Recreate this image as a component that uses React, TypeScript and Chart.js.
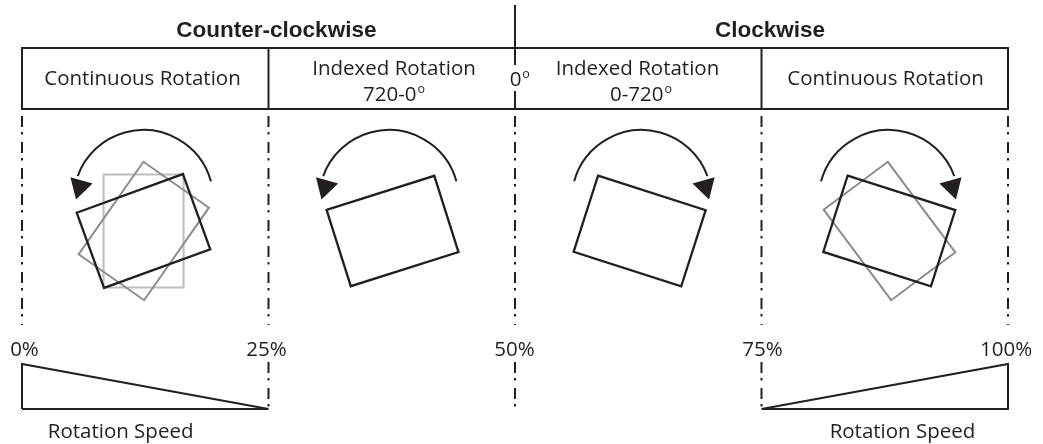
import React, { useEffect, useRef } from "react";
import { Chart, registerables } from "chart.js";

Chart.register(...registerables);

const CANVAS_W = 1043;
const CANVAS_H = 444;

const INK = "#231f20";
const MID_GRAY = "#8c8c8c";
const LIGHT_GRAY = "#bdbdbd";
const TEXT_FONT = '"Open Sans", "Noto Sans", sans-serif';
const TITLE_FONT = '"Liberation Sans", Arial, sans-serif';

// x: position along the control range (percent); y: diagram rows (top = 0)
const sectionEdges = [0, 25, 50, 75, 100];
const percentLabels = ["0%", "25%", "50%", "75%", "100%"];
const percentLabelX = [0.25, 24.8, 49.95, 75.1, 99.8];

const directionTitles = ["Counter-clockwise", "Clockwise"];
const directionTitleX = [25.8, 75.86];

const modeLabels = ["Continuous Rotation", "Indexed Rotation", "Indexed Rotation", "Continuous Rotation"];
const modeLabelX = [12.22, 37.73, 62.42, 87.58];
const modeRangeLabels = ["", "720-0", "0-720", ""];
const modeRangeX = [0, 37.73, 62.78, 0];
const centerLabel = "0";

// rotation speed ramps (speed 0..1 against position)
const ccwSpeedX = [0, 25];
const ccwSpeed = [1, 0];
const cwSpeedX = [75, 100];
const cwSpeed = [0, 1];
const speedLabel = "Rotation Speed";
const speedLabelX = [10, 89.3];

// rotated work-piece frames
const frameX = [12.33, 12.35, 12.32, 37.58, 62.64, 87.98, 87.96];
const frameAngle = [90, -55, -20, -17.6, 17.8, 53.3, 17.7];
const frameTone = ["light", "mid", "ink", "ink", "ink", "mid", "ink"];

// rotation arrows
const arrowX = [12.32, 37.22, 62.84, 87.88];
const arrowCCW = [true, true, false, false];

// rows
const ROW_TITLE = 36.5;
const ROW_BOX_TOP = 48;
const ROW_BOX_BOTTOM = 109;
const ROW_CENTER_TOP = 5;
const ROW_CENTER_GAP = [65, 91];
const ROW_MODE = 85;
const ROW_INDEX_1 = 74.5;
const ROW_INDEX_2 = 100.5;
const ROW_ZERO = 85.5;
const ROW_DASH = [116, 325];
const ROW_PERCENT = 355.5;
const ROW_LOW_DASH = [362, 408];
const ROW_SPEED_BASE = 409;
const ROW_SPEED_TOP = 364;
const ROW_SPEED_LABEL = 437.5;
const ROW_FRAME = 231;
const ROW_ARC = 200;

const FRAME_LONG = 113;
const FRAME_SHORT = 80;
const ARC_R = 70;

function rampPolygon(xs: number[], ys: number[]) {
  const pts = [{ x: xs[0], y: 0 }];
  xs.forEach((x, i) => pts.push({ x, y: ys[i] }));
  pts.push({ x: xs[xs.length - 1], y: 0 });
  pts.push({ x: xs[0], y: 0 });
  return pts;
}

const diagramPlugin = {
  id: "diagram",
  afterDatasetsDraw(chart: any) {
    const ctx: CanvasRenderingContext2D = chart.ctx;
    const sx = chart.scales.x;
    const sy = chart.scales.y;
    const px = (v: number) => sx.getPixelForValue(v);
    const py = (v: number) => sy.getPixelForValue(v);

    ctx.save();
    ctx.lineCap = "butt";
    ctx.lineJoin = "miter";
    ctx.strokeStyle = INK;
    ctx.fillStyle = INK;

    // header box
    ctx.lineWidth = 2;
    ctx.setLineDash([]);
    ctx.strokeRect(px(0), py(ROW_BOX_TOP), px(100) - px(0), py(ROW_BOX_BOTTOM) - py(ROW_BOX_TOP));
    [25, 75].forEach((e) => {
      ctx.beginPath();
      ctx.moveTo(px(e), py(ROW_BOX_TOP));
      ctx.lineTo(px(e), py(ROW_BOX_BOTTOM));
      ctx.stroke();
    });
    // center line
    ctx.beginPath();
    ctx.moveTo(px(50), py(ROW_CENTER_TOP));
    ctx.lineTo(px(50), py(ROW_CENTER_GAP[0]));
    ctx.moveTo(px(50), py(ROW_CENTER_GAP[1]));
    ctx.lineTo(px(50), py(ROW_BOX_BOTTOM));
    ctx.stroke();

    // dash-dot dividers
    ctx.setLineDash([11, 5, 2.5, 7.5]);
    sectionEdges.forEach((e) => {
      ctx.beginPath();
      ctx.moveTo(px(e), py(ROW_DASH[0]));
      ctx.lineTo(px(e), py(ROW_DASH[1]));
      ctx.stroke();
    });
    [25, 50, 75].forEach((e) => {
      ctx.beginPath();
      ctx.moveTo(px(e), py(ROW_LOW_DASH[0]));
      ctx.lineTo(px(e), py(ROW_LOW_DASH[1]));
      ctx.stroke();
    });
    ctx.setLineDash([]);

    // frames
    frameX.forEach((fx, i) => {
      const cx = px(fx);
      const cy = py(ROW_FRAME);
      const a = (frameAngle[i] * Math.PI) / 180;
      const ux = Math.cos(a), uy = Math.sin(a);
      const vx = -uy, vy = ux;
      const hl = FRAME_LONG / 2, hs = FRAME_SHORT / 2;
      const corners = [
        [cx - ux * hl - vx * hs, cy - uy * hl - vy * hs],
        [cx + ux * hl - vx * hs, cy + uy * hl - vy * hs],
        [cx + ux * hl + vx * hs, cy + uy * hl + vy * hs],
        [cx - ux * hl + vx * hs, cy - uy * hl + vy * hs],
      ];
      ctx.strokeStyle = frameTone[i] === "ink" ? INK : frameTone[i] === "mid" ? MID_GRAY : LIGHT_GRAY;
      ctx.lineWidth = frameTone[i] === "ink" ? 2.3 : 2;
      ctx.beginPath();
      corners.forEach((c, k) => (k === 0 ? ctx.moveTo(c[0], c[1]) : ctx.lineTo(c[0], c[1])));
      ctx.closePath();
      ctx.stroke();
    });

    // arrows
    ctx.strokeStyle = INK;
    ctx.fillStyle = INK;
    ctx.lineWidth = 2;
    arrowX.forEach((axv, i) => {
      const cx = px(axv);
      const cy = py(ROW_ARC);
      const ccw = arrowCCW[i];
      const d2r = Math.PI / 180;
      const start = (ccw ? -15.5 : -164.5) * d2r;
      const end = (ccw ? -160 : -20) * d2r;
      ctx.beginPath();
      ctx.arc(cx, cy, ARC_R, start, end, ccw);
      ctx.stroke();
      const bTheta = (ccw ? -162.4 : -17.6) * d2r;
      const bR = 65;
      const bx = cx + bR * Math.cos(bTheta);
      const by = cy + bR * Math.sin(bTheta);
      const dir = (ccw ? 106 : 74) * d2r;
      const dx = Math.cos(dir), dy = Math.sin(dir);
      const nx = -dy, ny = dx;
      const L = 20, hw = 11.5;
      ctx.beginPath();
      ctx.moveTo(bx + nx * hw, by + ny * hw);
      ctx.lineTo(bx - nx * hw, by - ny * hw);
      ctx.lineTo(bx + dx * L, by + dy * L);
      ctx.closePath();
      ctx.fill();
    });

    // texts
    ctx.fillStyle = INK;
    ctx.textBaseline = "alphabetic";
    ctx.textAlign = "center";
    ctx.font = `bold 22.5px ${TITLE_FONT}`;
    directionTitles.forEach((t, i) => ctx.fillText(t, px(directionTitleX[i]), py(ROW_TITLE)));

    const regular = `20.5px ${TEXT_FONT}`;
    const sup = `12.5px ${TEXT_FONT}`;
    const withSup = (text: string, cx: number, base: number) => {
      ctx.font = regular;
      const w1 = ctx.measureText(text).width;
      ctx.font = sup;
      const w2 = ctx.measureText("o").width;
      const left = cx - (w1 + w2 + 1) / 2;
      ctx.textAlign = "left";
      ctx.font = regular;
      ctx.fillText(text, left, base);
      ctx.font = sup;
      ctx.fillText("o", left + w1 + 1, base - 8);
      ctx.textAlign = "center";
    };

    modeLabels.forEach((t, i) => {
      ctx.font = regular;
      if (modeRangeLabels[i]) {
        ctx.fillText(t, px(modeLabelX[i]), py(ROW_INDEX_1));
        withSup(modeRangeLabels[i], px(modeRangeX[i]), py(ROW_INDEX_2));
      } else {
        ctx.fillText(t, px(modeLabelX[i]), py(ROW_MODE));
      }
    });

    // 0° at the center
    ctx.font = regular;
    const zw = ctx.measureText(centerLabel).width;
    ctx.textAlign = "left";
    const zl = px(50) + 0.5 - zw / 2;
    ctx.fillText(centerLabel, zl, py(ROW_ZERO));
    ctx.font = sup;
    ctx.fillText("o", zl + zw + 1, py(ROW_ZERO) - 8);
    ctx.textAlign = "center";

    ctx.font = regular;
    percentLabels.forEach((t, i) => ctx.fillText(t, px(percentLabelX[i]), py(ROW_PERCENT)));
    speedLabelX.forEach((x) => ctx.fillText(speedLabel, px(x), py(ROW_SPEED_LABEL)));

    ctx.restore();
  },
};

export default function App() {
  const canvasRef = useRef<HTMLCanvasElement | null>(null);

  useEffect(() => {
    const canvas = canvasRef.current;
    if (!canvas) return;
    const speedRange = CANVAS_H / (ROW_SPEED_BASE - ROW_SPEED_TOP);
    const speedMin = -(CANVAS_H - ROW_SPEED_BASE) / (ROW_SPEED_BASE - ROW_SPEED_TOP);
    const chart = new Chart(canvas, {
      type: "scatter",
      data: {
        datasets: [
          {
            data: rampPolygon(ccwSpeedX, ccwSpeed),
            showLine: true,
            borderColor: INK,
            borderWidth: 2,
            pointRadius: 0,
            fill: false,
            tension: 0,
            clip: false,
            yAxisID: "speed",
          },
          {
            data: rampPolygon(cwSpeedX, cwSpeed),
            showLine: true,
            borderColor: INK,
            borderWidth: 2,
            pointRadius: 0,
            fill: false,
            tension: 0,
            clip: false,
            yAxisID: "speed",
          },
        ],
      },
      options: {
        responsive: false,
        animation: false,
        events: [],
        devicePixelRatio: 1,
        layout: { padding: { left: 22, right: CANVAS_W - 1008, top: 0, bottom: 0 } },
        plugins: { legend: { display: false }, tooltip: { enabled: false }, title: { display: false } },
        scales: {
          x: { type: "linear", min: 0, max: 100, display: false },
          y: { type: "linear", min: 0, max: CANVAS_H, reverse: true, display: false },
          speed: { type: "linear", min: speedMin, max: speedMin + speedRange, display: false },
        },
      } as any,
      plugins: [diagramPlugin],
    });
    return () => chart.destroy();
  }, []);

  return (
    <div style={{ position: "fixed", left: 0, top: 0, width: CANVAS_W, height: CANVAS_H, background: "#fff" }}>
      <canvas ref={canvasRef} width={CANVAS_W} height={CANVAS_H} style={{ display: "block" }} />
    </div>
  );
}
